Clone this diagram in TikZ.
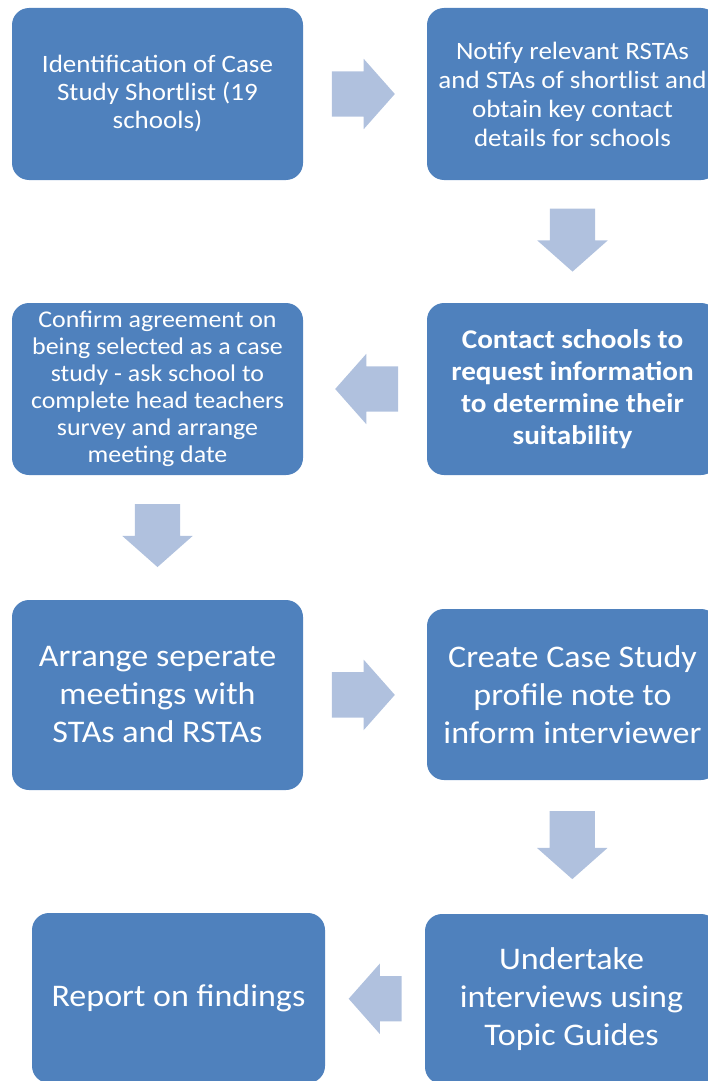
\documentclass[tikz,border=0pt]{standalone}
\usepackage{fontspec}
\setmainfont{Carlito}[FakeStretch=1.08]
\usetikzlibrary{shapes.arrows,calc}

\definecolor{boxblue}{RGB}{79,129,189}
\definecolor{arrowblue}{RGB}{176,193,222}

\tikzset{
	stepbox/.style={fill=boxblue, rounded corners=17pt, text=white, align=center,
		minimum width=291pt, minimum height=172pt, inner sep=0pt},
	blockarrow/.style={single arrow, fill=arrowblue, minimum height=63pt, minimum width=70pt,
		inner sep=0pt, inner ysep=22.5pt, single arrow head extend=12.5pt, single arrow tip angle=97,
		anchor=tail},
}

\begin{document}
\begin{tikzpicture}[x=1pt,y=-1pt]

		\useasboundingbox (0,0) rectangle (707,1081);

		\node[stepbox, font=\fontsize{25}{28}\selectfont] (ident) at (157.5,94)
			{Identification of Case\\Study Shortlist (19\\schools)};
		\node[stepbox, font=\fontsize{25}{29}\selectfont] (notify) at (572.5,94)
			{Notify relevant RSTAs\\and STAs of shortlist and\\obtain key contact\\details for schools};

		\node[stepbox, font=\fontsize{27}{32}\selectfont\bfseries] (contact) at (572.5,389)
			{Contact schools to\\request information\\to determine their\\suitability};
		\node[stepbox, font=\fontsize{24}{27}\selectfont] (confirm) at (157.5,389)
			{Confirm agreement on\\being selected as a case\\study - ask school to\\complete head teachers\\survey and arrange\\meeting date};

		\node[stepbox, minimum height=190pt, font=\fontsize{31.5}{38}\selectfont] (arrange) at (157.5,695)
			{Arrange seperate\\meetings with\\STAs and RSTAs};
		\node[stepbox, minimum height=171pt, font=\fontsize{31.5}{38}\selectfont] (profile) at (572.5,694.5)
			{Create Case Study\\profile note to\\inform interviewer};

		\node[stepbox, minimum width=293pt, minimum height=170pt, font=\fontsize{31.5}{38}\selectfont] (undertake) at (571.5,999)
			{Undertake\\interviews using\\Topic Guides};
		\node[stepbox, minimum width=293pt, minimum height=170pt, font=\fontsize{31.5}{38}\selectfont] (report) at (178.5,998)
			{Report on findings};

		\node[blockarrow] (a1) at ($(ident.east)!0.23!(notify.west)$) {};
		\node[blockarrow, rotate=-90] (a2) at ($(notify.south)!0.23!(contact.north)$) {};
		\node[blockarrow, rotate=180] (a3) at ($(contact.west)!0.23!(confirm.east)$) {};
		\node[blockarrow, rotate=-90] (a4) at ($(confirm.south)!0.23!(arrange.north)$) {};
		\node[blockarrow] (a5) at ($(arrange.east)!0.23!(profile.west)$) {};
		\node[blockarrow, rotate=-90, minimum height=68pt] (a6) at ($(profile.south)!0.23!(undertake.north)$) {};
		\node[blockarrow, rotate=180, minimum height=53pt] (a7) at ($(undertake.west)!0.23!(report.east)$) {};

\end{tikzpicture}
\end{document}
